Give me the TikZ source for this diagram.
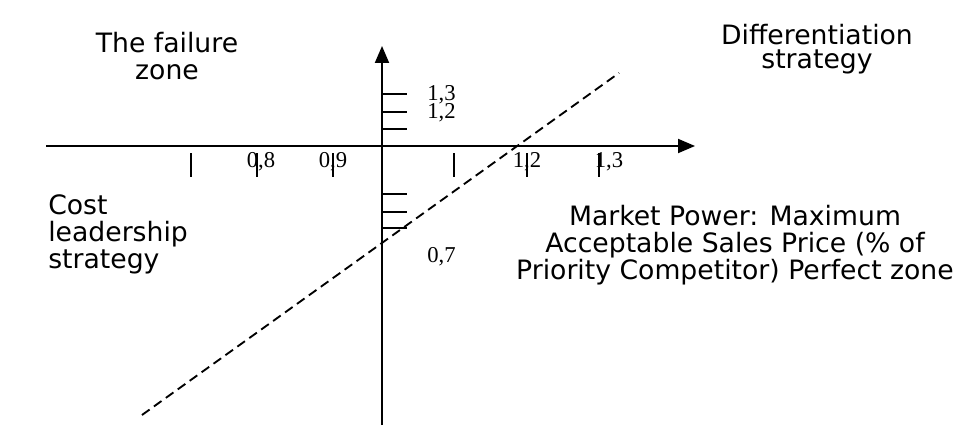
\documentclass[tikz,border=0pt]{standalone}
\usepackage{fontspec}
\setmainfont{Liberation Serif}
\newfontfamily\zonefont{DejaVu Sans}
\usetikzlibrary{arrows.meta}

\begin{document}
\begin{tikzpicture}[x=0.75pt,y=-0.75pt,
  axis/.style={line width=1.4pt,-{Triangle[length=12.75pt,width=10.5pt]}},
  tickmark/.style={line width=1.3pt},
  trend/.style={line width=1.4pt,dash pattern=on 7pt off 4pt},
  zone/.style={font=\zonefont\fontsize{20}{20.25}\selectfont,inner sep=0pt,anchor=north},
  num/.style={font=\fontsize{17}{17}\selectfont,inner sep=0pt,anchor=base}
]
\useasboundingbox (0,0) rectangle (961,428);
% axes
\coordinate (xstart) at (46,146);
\coordinate (xend) at (695,146);
\coordinate (ystart) at (382,425);
\coordinate (yend) at (382,46);
\draw[axis] (xstart) -- (xend);
\draw[axis] (ystart) -- (yend);
% tick marks
\foreach \x in {191,257,333,454,527,599}
  \draw[tickmark] (\x,153) -- (\x,177);
\foreach \y in {94,112,129,194,212,228}
  \draw[tickmark] (382,\y) -- (407,\y);
% values
\node[num] (v08) at (261,167) {0,8};
\node[num] (v09) at (333,167) {0,9};
\node[num] (v12) at (527,167) {1,2};
\node[num] (v13) at (609,167) {1,3};
\node[num,anchor=base west] (w13) at (427,101) {1,3};
\node[num,anchor=base west] (w12) at (427,118) {1,2};
\node[num,anchor=base west] (w07) at (427,262) {0,7};
% dashed line
\coordinate (lo) at (142,415);
\coordinate (hi) at (619,73);
\draw[trend] (lo) -- (hi);
% zones
\node[zone,align=center] (fail) at (167,32) {The failure\\zone};
\node[zone,align=center,font=\zonefont\fontsize{20}{18}\selectfont] (diff) at (817,24) {Differentiation\\strategy};
\node[zone,align=left,anchor=north west] (cost) at (48,194) {Cost\\leadership\\strategy};
\node[zone,align=center] (power) at (735,205) {Market Power: Maximum\\Acceptable Sales Price (\% of\\Priority Competitor) Perfect zone};
\end{tikzpicture}
\end{document}
